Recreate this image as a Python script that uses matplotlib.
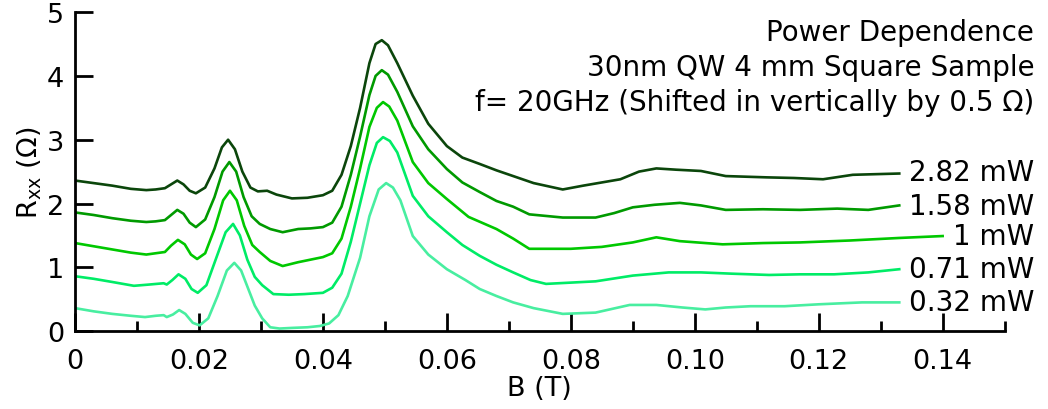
import matplotlib.pyplot as plt

plt.rcParams['font.family'] = ['DejaVu Sans']

# field (T) and Rxx (Ohm), shifted curves as drawn
b_282 = [0, 0.003, 0.006, 0.009, 0.0115, 0.013, 0.0145, 0.0155, 0.0165, 0.0175, 0.0185, 0.0195,
         0.021, 0.0225, 0.0237, 0.0247, 0.0258, 0.027, 0.0283, 0.0295, 0.031, 0.0325, 0.035, 0.0375,
         0.040, 0.0415, 0.043, 0.0445, 0.046, 0.0475, 0.0485, 0.0495, 0.0505, 0.052, 0.0545, 0.057,
         0.060, 0.0625, 0.0653, 0.068, 0.0707, 0.074, 0.0787, 0.082, 0.085, 0.088, 0.091, 0.0938,
         0.097, 0.101, 0.105, 0.1116, 0.116, 0.1207, 0.1255, 0.133]
r_282 = [2.36, 2.32, 2.28, 2.23, 2.21, 2.22, 2.24, 2.3, 2.36, 2.3, 2.2, 2.16,
         2.25, 2.55, 2.88, 3.0, 2.85, 2.5, 2.25, 2.19, 2.2, 2.14, 2.08, 2.09,
         2.13, 2.2, 2.45, 2.9, 3.5, 4.2, 4.5, 4.56, 4.48, 4.2, 3.69, 3.25,
         2.9, 2.72, 2.62, 2.52, 2.43, 2.32, 2.22, 2.28, 2.33, 2.38, 2.5, 2.55,
         2.53, 2.51, 2.43, 2.41, 2.4, 2.38, 2.45, 2.47]

b_158 = [0, 0.003, 0.006, 0.009, 0.0115, 0.013, 0.0145, 0.0155, 0.0165, 0.0175, 0.0185, 0.0195,
         0.021, 0.0225, 0.0238, 0.0249, 0.026, 0.0272, 0.0285, 0.0298, 0.0315, 0.0335, 0.036, 0.038,
         0.040, 0.0415, 0.043, 0.0445, 0.046, 0.0475, 0.0485, 0.0495, 0.0505, 0.052, 0.0545, 0.057,
         0.060, 0.0625, 0.0653, 0.068, 0.0707, 0.0733, 0.0787, 0.084, 0.087, 0.090, 0.0935, 0.0976,
         0.101, 0.105, 0.111, 0.117, 0.123, 0.128, 0.133]
r_158 = [1.86, 1.82, 1.77, 1.73, 1.71, 1.72, 1.74, 1.82, 1.9, 1.84, 1.7, 1.63,
         1.75, 2.1, 2.5, 2.65, 2.5, 2.1, 1.8, 1.68, 1.6, 1.55, 1.6, 1.61,
         1.63, 1.7, 1.95, 2.45, 3.05, 3.7, 4.0, 4.09, 4.02, 3.75, 3.21, 2.85,
         2.54, 2.33, 2.18, 2.04, 1.95, 1.83, 1.78, 1.78, 1.85, 1.94, 1.98, 2.01,
         1.97, 1.9, 1.91, 1.9, 1.92, 1.9, 1.97]

b_100 = [0, 0.003, 0.006, 0.009, 0.0115, 0.013, 0.0145, 0.0155, 0.0166, 0.0177, 0.0187, 0.0197,
         0.021, 0.0225, 0.0239, 0.025, 0.0261, 0.0273, 0.0286, 0.0298, 0.0315, 0.0335, 0.036, 0.038,
         0.040, 0.0415, 0.043, 0.0445, 0.046, 0.0475, 0.0487, 0.0497, 0.0507, 0.052, 0.0545, 0.057,
         0.060, 0.0635, 0.068, 0.0707, 0.0733, 0.080, 0.085, 0.090, 0.0938, 0.0976, 0.1045, 0.111,
         0.117, 0.125, 0.133, 0.140]
r_100 = [1.38, 1.33, 1.28, 1.23, 1.2, 1.22, 1.24, 1.34, 1.43, 1.36, 1.2, 1.13,
         1.22, 1.6, 2.05, 2.2, 2.05, 1.65, 1.35, 1.24, 1.1, 1.02, 1.08, 1.12,
         1.16, 1.22, 1.45, 1.95, 2.55, 3.2, 3.5, 3.59, 3.52, 3.3, 2.65, 2.32,
         2.07, 1.79, 1.6, 1.45, 1.29, 1.29, 1.32, 1.39, 1.47, 1.41, 1.36, 1.38,
         1.39, 1.42, 1.46, 1.49]

b_071 = [0, 0.003, 0.006, 0.0095, 0.012, 0.0143, 0.0148, 0.0157, 0.0167, 0.0178, 0.0188, 0.0198,
         0.0212, 0.0228, 0.0243, 0.0255, 0.0266, 0.0278, 0.029, 0.0302, 0.032, 0.0345, 0.037, 0.040,
         0.0415, 0.043, 0.0445, 0.046, 0.0475, 0.0487, 0.0497, 0.0508, 0.052, 0.0545, 0.057, 0.060,
         0.0625, 0.0653, 0.068, 0.0707, 0.0735, 0.076, 0.080, 0.084, 0.090, 0.0958, 0.101, 0.106,
         0.112, 0.117, 0.1225, 0.128, 0.133]
r_071 = [0.86, 0.82, 0.77, 0.71, 0.73, 0.75, 0.73, 0.8, 0.89, 0.82, 0.66, 0.6,
         0.72, 1.15, 1.55, 1.68, 1.5, 1.12, 0.85, 0.72, 0.58, 0.57, 0.58, 0.6,
         0.68, 0.9, 1.4, 2.0, 2.6, 2.95, 3.04, 2.98, 2.8, 2.12, 1.8, 1.55,
         1.35, 1.18, 1.04, 0.92, 0.8, 0.74, 0.76, 0.78, 0.87, 0.92, 0.92, 0.9,
         0.88, 0.89, 0.89, 0.92, 0.97]

b_032 = [0, 0.003, 0.006, 0.009, 0.0113, 0.013, 0.0143, 0.0148, 0.0158, 0.0168, 0.0178, 0.019,
         0.0201, 0.0215, 0.023, 0.0245, 0.0257, 0.0268, 0.028, 0.029, 0.0302, 0.0315, 0.033, 0.035,
         0.0375, 0.0395, 0.041, 0.0425, 0.044, 0.046, 0.0475, 0.049, 0.0502, 0.0513, 0.0525, 0.0545,
         0.057, 0.060, 0.063, 0.0653, 0.068, 0.0707, 0.074, 0.0787, 0.084, 0.0895, 0.0938, 0.098,
         0.1017, 0.105, 0.109, 0.1145, 0.12, 0.127, 0.133]
r_032 = [0.36, 0.31, 0.27, 0.24, 0.22, 0.24, 0.25, 0.22, 0.26, 0.33, 0.27, 0.13,
         0.09, 0.2, 0.55, 0.95, 1.07, 0.95, 0.65, 0.4, 0.2, 0.06, 0.04, 0.05,
         0.06, 0.08, 0.12, 0.25, 0.55, 1.15, 1.8, 2.22, 2.32, 2.25, 2.05, 1.49,
         1.2, 0.97, 0.8, 0.66, 0.55, 0.45, 0.36, 0.27, 0.29, 0.41, 0.41, 0.37,
         0.34, 0.37, 0.39, 0.39, 0.42, 0.45, 0.45]

labels = ['2.82 mW', '1.58 mW', '1 mW', '0.71 mW', '0.32 mW']
label_y = [2.49, 1.96, 1.49, 0.97, 0.45]
colors = ['#0b460b', '#009a00', '#00c800', '#00ec66', '#48eea0']
curves = [(b_282, r_282), (b_158, r_158), (b_100, r_100), (b_071, r_071), (b_032, r_032)]

fig = plt.figure(figsize=(10.48, 4.10), dpi=100)
ax = fig.add_axes([0.0716, 0.19, 0.887, 0.778])

for (b, r), col in zip(curves, colors):
    ax.plot(b, r, color=col, lw=1.9, solid_joinstyle='round')

for lab, yv in zip(labels, label_y):
    ax.text(1.032, yv, lab, ha='right', va='center', fontsize=20,
            transform=ax.get_yaxis_transform())

ax.text(1.032, 0.98, 'Power Dependence\n30nm QW 4 mm Square Sample\n'
        'f= 20GHz (Shifted in vertically by 0.5 \u03a9)',
        ha='right', va='top', fontsize=20, linespacing=1.3,
        transform=ax.transAxes)

ax.set_xlim(0, 0.15)
ax.set_ylim(0, 5)
ax.spines['top'].set_visible(False)
ax.spines['right'].set_visible(False)
ax.spines['left'].set_linewidth(2)
ax.spines['bottom'].set_linewidth(2)
ax.set_xticks([0, 0.02, 0.04, 0.06, 0.08, 0.10, 0.12, 0.14])
ax.set_xticklabels(['0', '0.02', '0.04', '0.06', '0.08', '0.10', '0.12', '0.14'])
ax.set_xticks([0.01, 0.03, 0.05, 0.07, 0.09, 0.11, 0.13, 0.15], minor=True)
ax.set_yticks([0, 1, 2, 3, 4, 5])
ax.tick_params(direction='in', width=2, length=13, labelsize=19.5, pad=8)
ax.tick_params(axis='x', pad=12)
ax.tick_params(which='minor', direction='in', width=2, length=7)
ax.set_xlabel('B (T)', fontsize=19.5, labelpad=1)
ax.set_ylabel('R$_{\\mathregular{xx}}$ (\u03a9)', fontsize=19.5, labelpad=2)

fig.savefig('out.png', dpi=100)
